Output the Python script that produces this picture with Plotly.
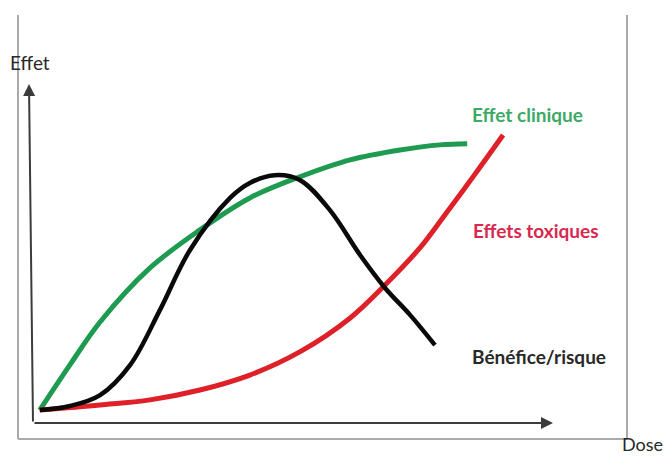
import plotly.graph_objects as go

# Data (Dose units along x, Effet units along y)
green_x = [0.13, 0.71, 1.29, 2.25, 3.21, 4.17, 5.13, 6.10, 7.06, 7.83, 8.35]
green_y = [0.38, 1.71, 2.97, 4.56, 5.68, 6.62, 7.24, 7.74, 8.03, 8.18, 8.21]

black_x = [0.13, 0.71, 1.29, 1.87, 2.44, 3.02, 3.79, 4.17, 4.65, 5.13, 5.71, 6.29, 6.77, 7.25, 7.73]
black_y = [0.38, 0.50, 0.82, 1.71, 3.32, 5.09, 6.62, 7.06, 7.29, 7.15, 6.26, 4.94, 3.97, 3.18, 2.29]

red_x = [0.13, 1.29, 2.25, 3.21, 4.17, 5.13, 6.10, 6.77, 7.44, 7.92, 8.50, 9.04]
red_y = [0.38, 0.53, 0.68, 0.97, 1.41, 2.09, 3.09, 4.06, 5.15, 6.12, 7.32, 8.47]

labels = ["Effet clinique", "Effets toxiques", "Bénéfice/risque"]
axis_labels = ["Effet", "Dose"]

W, H = 666, 456
X0PX, Y0PX, XS, YS = 33, 423, 52.0, 34.0
x_range = [-X0PX / XS, (W - X0PX) / XS]
y_range = [-(H - Y0PX) / YS, Y0PX / YS]

def px(xp):
    return (xp - X0PX) / XS

def py(yp):
    return (Y0PX - yp) / YS

fig = go.Figure()
fig.add_trace(go.Scatter(x=green_x, y=green_y, mode="lines",
                         line=dict(color="rgb(30,155,80)", width=5, shape="spline", smoothing=1.0)))
fig.add_trace(go.Scatter(x=red_x, y=red_y, mode="lines",
                         line=dict(color="rgb(222,32,40)", width=5, shape="spline", smoothing=1.0)))
fig.add_trace(go.Scatter(x=black_x, y=black_y, mode="lines",
                         line=dict(color="rgb(10,10,10)", width=4.5, shape="spline", smoothing=1.0)))

gray = "rgb(170,170,170)"
dark = "rgb(60,60,60)"
shapes = [
    dict(type="line", xref="x", yref="y", x0=px(18), y0=py(15), x1=px(18), y1=py(439), line=dict(color=gray, width=2)),
    dict(type="line", xref="x", yref="y", x0=px(18), y0=py(439), x1=px(627), y1=py(439), line=dict(color=gray, width=2)),
    dict(type="line", xref="x", yref="y", x0=px(627), y0=py(15), x1=px(627), y1=py(439), line=dict(color=gray, width=2)),
]
fig.update_layout(shapes=shapes)

txt = "rgb(40,40,40)"
annotations = [
    # y axis arrow
    dict(x=px(29), y=py(84), ax=px(33), ay=py(423), xref="x", yref="y", axref="x", ayref="y",
         showarrow=True, arrowhead=2, arrowsize=1.2, arrowwidth=2, arrowcolor=dark, text=""),
    # x axis arrow
    dict(x=px(553), y=py(423), ax=px(33), ay=py(423), xref="x", yref="y", axref="x", ayref="y",
         showarrow=True, arrowhead=2, arrowsize=1.2, arrowwidth=2, arrowcolor=dark, text=""),
    dict(x=px(8), y=py(62), xref="x", yref="y", text=axis_labels[0], showarrow=False,
         xanchor="left", yanchor="middle", font=dict(family="Lato", size=19, color=txt)),
    dict(x=px(620), y=py(444), xref="x", yref="y", text=axis_labels[1], showarrow=False,
         xanchor="left", yanchor="middle", font=dict(family="Lato", size=18, color=txt)),
    dict(x=px(470), y=py(114), xref="x", yref="y", text="<b>%s</b>" % labels[0], showarrow=False,
         xanchor="left", yanchor="middle", font=dict(family="Lato", size=19, color="rgb(60,170,100)")),
    dict(x=px(471), y=py(230), xref="x", yref="y", text="<b>%s</b>" % labels[1], showarrow=False,
         xanchor="left", yanchor="middle", font=dict(family="Lato", size=19, color="rgb(215,40,80)")),
    dict(x=px(470), y=py(356), xref="x", yref="y", text="<b>%s</b>" % labels[2], showarrow=False,
         xanchor="left", yanchor="middle", font=dict(family="Lato", size=19, color=txt)),
]

fig.update_layout(
    width=W, height=H,
    margin=dict(l=0, r=0, t=0, b=0),
    paper_bgcolor="white", plot_bgcolor="white",
    showlegend=False,
    xaxis=dict(range=x_range, visible=False, fixedrange=True),
    yaxis=dict(range=y_range, visible=False, fixedrange=True),
    annotations=annotations,
)

fig.write_html("out.html", config={"displayModeBar": False},
               post_script="document.body.style.margin='0';document.body.style.overflow='hidden';")
